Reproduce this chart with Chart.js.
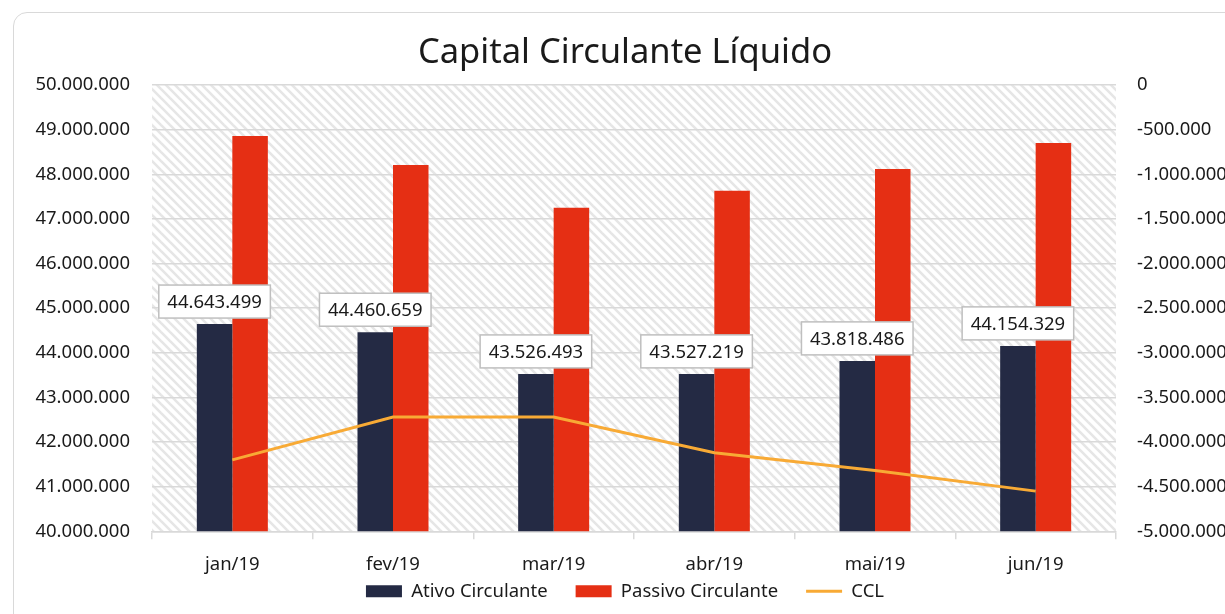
<!DOCTYPE html>
<html>
<head>
<meta charset="utf-8">
<script src="https://cdn.jsdelivr.net/npm/chart.js@4"></script>
<style>
  html, body { margin: 0; padding: 0; background: #fff; overflow: hidden; width: 1225px; height: 614px; }
  #moldura { position: absolute; left: 13px; top: 12px; width: 1300px; height: 700px;
             border: 1.5px solid #d9d9d9; border-radius: 14px; box-sizing: border-box; }
  #grafica { position: absolute; left: 0; top: 0; }
</style>
</head>
<body>
<div id="moldura"></div>
<canvas id="grafica" width="1250" height="646" style="width:1250px;height:646px"></canvas>
<script>
// Dados
const meses = ["jan/19", "fev/19", "mar/19", "abr/19", "mai/19", "jun/19"];
const ativo = [44643499, 44460659, 43526493, 43527219, 43818486, 44154329];
const passivo = [48860000, 48210000, 47250000, 47630000, 48120000, 48700000];
const ccl = [-4200000, -3720000, -3720000, -4120000, -4320000, -4550000];
const ticksEsq = [40000000, 50000000, 1000000];   // min, max, passo
const ticksDir = [-5000000, 0, 500000];

const FONTE = '"Noto Sans", "Open Sans", sans-serif';

function fmt(v) {
  const s = Math.round(Math.abs(v)).toString().replace(/\B(?=(\d{3})+(?!\d))/g, ".");
  return (v < 0 ? "-" : "") + s;
}

// fundo hachurado da área do gráfico
function hachura() {
  const s = 9;
  const c = document.createElement("canvas");
  c.width = s; c.height = s;
  const g = c.getContext("2d");
  g.fillStyle = "#ffffff";
  g.fillRect(0, 0, s, s);
  g.strokeStyle = "#e6e6e6";
  g.lineWidth = 2.6;
  for (let k = -1; k <= 1; k++) {
    g.beginPath();
    g.moveTo(-1, -1 + k * s);
    g.lineTo(s + 1, s + 1 + k * s);
    g.stroke();
  }
  return c;
}

const fundo = {
  id: "fundo",
  beforeDraw(chart) {
    const a = chart.chartArea, ctx = chart.ctx;
    ctx.save();
    ctx.fillStyle = ctx.createPattern(hachura(), "repeat");
    ctx.fillRect(a.left, a.top, a.right - a.left, a.bottom - a.top);
    ctx.restore();
  }
};

// sobe a legenda para ficar logo abaixo dos rótulos do eixo x
const ajusteLegenda = {
  id: "ajusteLegenda",
  afterLayout(chart) {
    const lg = chart.legend;
    if (!lg) return;
    lg.top -= 35.5;
    lg.bottom -= 35.5;
  }
};

const rotulos = {
  id: "rotulos",
  afterDatasetsDraw(chart) {
    const ctx = chart.ctx;
    const meta = chart.getDatasetMeta(0);
    ctx.save();
    ctx.font = "18.5px " + FONTE;
    ctx.textAlign = "center";
    ctx.textBaseline = "middle";
    meta.data.forEach((bar, i) => {
      const txt = fmt(ativo[i]);
      const w = ctx.measureText(txt).width + 17, h = 33;
      const x = bar.x - w / 2, y = bar.y - 6 - h;
      ctx.fillStyle = "#ffffff";
      ctx.fillRect(x, y, w, h);
      ctx.strokeStyle = "#bfbfbf";
      ctx.lineWidth = 1.5;
      ctx.strokeRect(x, y, w, h);
      ctx.fillStyle = "#1a1a1a";
      ctx.fillText(txt, bar.x, y + h / 2 + 1);
    });
    ctx.restore();
  }
};

document.addEventListener("DOMContentLoaded", function () {
  const ctx = document.getElementById("grafica").getContext("2d");
  new Chart(ctx, {
    type: "bar",
    data: {
      labels: meses,
      datasets: [
        {
          label: "Ativo Circulante",
          data: ativo,
          backgroundColor: "#242a44",
          yAxisID: "y",
          order: 1,
        },
        {
          label: "Passivo Circulante",
          data: passivo,
          backgroundColor: "#e52f14",
          yAxisID: "y",
          order: 1,
        },
        {
          type: "line",
          label: "CCL",
          data: ccl,
          borderColor: "#f8aa35",
          backgroundColor: "#f8aa35",
          borderWidth: 3,
          pointRadius: 0,
          tension: 0,
          yAxisID: "y2",
          order: 0,
        },
      ],
    },
    options: {
      responsive: false,
      animation: false,
      layout: { padding: 0 },
      datasets: { bar: { categoryPercentage: 0.442, barPercentage: 1 } },
      plugins: {
        tooltip: { enabled: false },
        title: {
          display: true,
          text: "Capital Circulante Líquido",
          color: "#1a1a1a",
          font: { family: FONTE, size: 34.5, weight: "normal" },
          padding: { top: 32.3, bottom: 11.3 },
        },
        legend: {
          position: "bottom",
          labels: {
            color: "#1a1a1a",
            font: { family: FONTE, size: 18.5 },
            usePointStyle: true,
            pointStyleWidth: 36,
            boxHeight: 12,
            padding: 28,
            sort: (a, b) => a.datasetIndex - b.datasetIndex,
            generateLabels(chart) {
              const itens = Chart.defaults.plugins.legend.labels.generateLabels(chart);
              itens.forEach((it) => {
                if (it.datasetIndex === 2) {
                  it.pointStyle = "line";
                  it.lineWidth = 3;
                  it.strokeStyle = "#f8aa35";
                } else {
                  it.pointStyle = "rect";
                  it.lineWidth = 0;
                }
              });
              return itens;
            },
          },
        },
      },
      scales: {
        x: {
          grid: { display: true, drawOnChartArea: false, drawTicks: true, tickLength: 8, color: "#d9d9d9", lineWidth: 1.5 },
          border: { display: true, color: "#d9d9d9", width: 1.5 },
          ticks: { color: "#1a1a1a", font: { family: FONTE, size: 18.5 }, padding: 14 },
        },
        y: {
          position: "left",
          min: ticksEsq[0],
          max: ticksEsq[1],
          ticks: { stepSize: ticksEsq[2], color: "#1a1a1a", font: { family: FONTE, size: 18.5 }, padding: 22, callback: (v) => fmt(v) },
          grid: { color: "#d9d9d9", lineWidth: 1.5, drawTicks: false },
          border: { display: false },
          afterFit(s) { s.width = 152; },
        },
        y2: {
          position: "right",
          min: ticksDir[0],
          max: ticksDir[1],
          ticks: { stepSize: ticksDir[2], color: "#1a1a1a", font: { family: FONTE, size: 18.5 }, padding: 21, callback: (v) => fmt(v) },
          grid: { drawOnChartArea: false, drawTicks: false },
          border: { display: false },
          afterFit(s) { s.width = 134; },
        },
      },
    },
    plugins: [fundo, ajusteLegenda, rotulos],
  });
});
</script>
</body>
</html>
